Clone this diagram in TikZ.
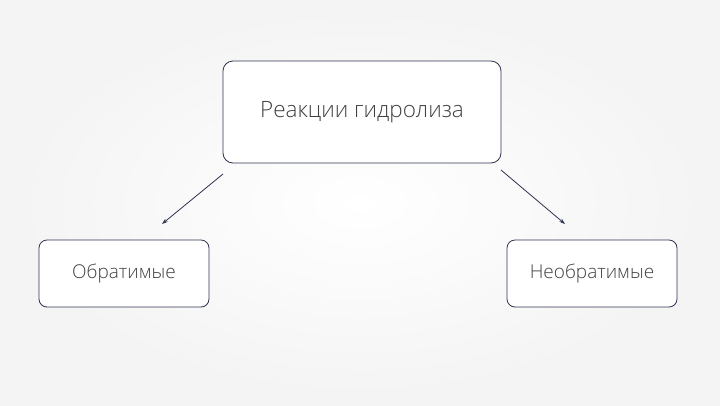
\documentclass[tikz,border=0pt]{standalone}
\usepackage{fontspec}
\setmainfont{Open Sans Light}
\usetikzlibrary{arrows.meta}
\definecolor{navy}{HTML}{2E3350}
\definecolor{txt}{HTML}{404040}
\tikzset{box/.style={draw=navy,line width=0.8pt,rounded corners=10pt,fill=white,text=txt,inner sep=0pt},
conn/.style={draw=navy,line width=0.8pt,-{Stealth[length=6pt,width=4pt]}}}
\begin{document}
\begin{tikzpicture}[x=1pt,y=-1pt]
\shade[inner color=white,outer color=gray!9] (0,0) rectangle (720,405);
\useasboundingbox (0,0) rectangle (720,405);
\node[box,minimum width=278,minimum height=102,font=\fontsize{22.5}{26}\selectfont] (top) at (362,112) {Реакции гидролиза};
\node[box,minimum width=170,minimum height=67,rounded corners=8pt,font=\fontsize{19}{22}\selectfont] (left) at (124,273.5) {Обратимые};
\node[box,minimum width=170,minimum height=67,rounded corners=8pt,font=\fontsize{19}{22}\selectfont] (right) at (592,273.5) {Необратимые};
\coordinate (a1) at (223,174); \coordinate (a2) at (162,224);
\coordinate (b1) at (501,170); \coordinate (b2) at (565,224);
\draw[conn] (a1) -- (a2);
\draw[conn] (b1) -- (b2);
\end{tikzpicture}
\end{document}
